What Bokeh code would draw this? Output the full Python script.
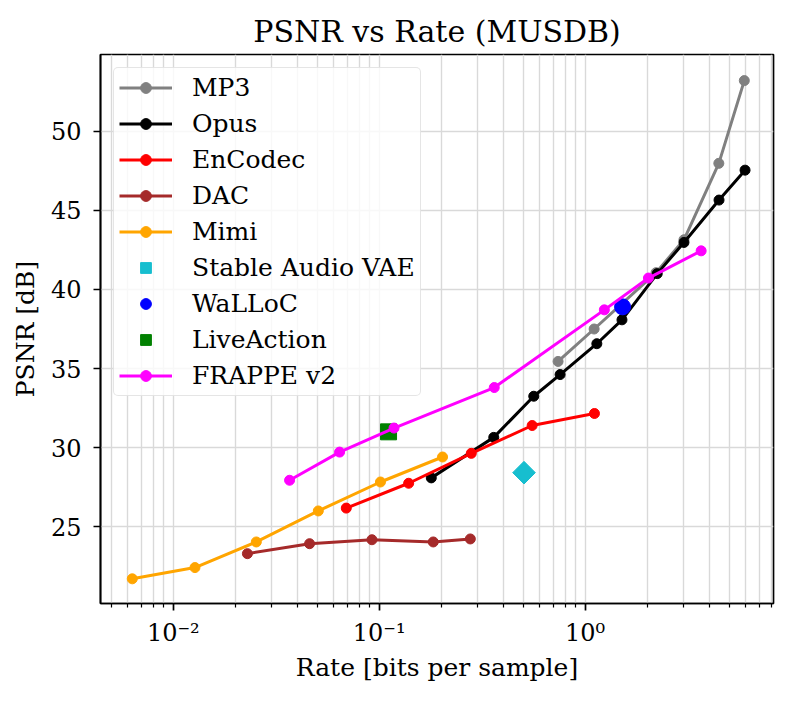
import math
from bokeh.plotting import figure
from bokeh.models import Range1d, FixedTicker, CustomJSTickFormatter
from bokeh.embed import file_html
from bokeh.resources import INLINE

FONT = "DejaVu Serif"

mp3_x = [0.739, 1.106, 2.21, 3.02, 4.46, 5.93]
mp3_y = [35.45, 37.5, 41.06, 43.14, 47.97, 53.2]

opus_x = [0.179, 0.360, 0.563, 0.756, 1.14, 1.51, 2.24, 3.02, 4.47, 5.98]
opus_y = [28.09, 30.65, 33.25, 34.62, 36.57, 38.08, 41.0, 42.97, 45.65, 47.54]

encodec_x = [0.0692, 0.139, 0.280, 0.553, 1.11]
encodec_y = [26.18, 27.75, 29.64, 31.40, 32.16]

dac_x = [0.0229, 0.0459, 0.0922, 0.183, 0.277]
dac_y = [23.30, 23.93, 24.18, 24.04, 24.23]

mimi_x = [0.00632, 0.01274, 0.0253, 0.0506, 0.1014, 0.203]
mimi_y = [21.71, 22.42, 24.04, 26.0, 27.83, 29.41]

stable_x = [0.505]
stable_y = [28.42]

walloc_x = [1.52]
walloc_y = [38.9]

liveaction_x = [0.111]
liveaction_y = [31.0]

frappe_x = [0.0367, 0.0642, 0.118, 0.362, 1.24, 2.03, 3.66]
frappe_y = [27.94, 29.72, 31.24, 33.80, 38.71, 40.72, 42.44]

y_ticks = [25, 30, 35, 40, 45, 50]
x_major = [0.01, 0.1, 1.0]
x_minor = [k * 10.0 ** e for e in range(-3, 1) for k in range(2, 10)]

p = figure(width=792, height=701, x_axis_type="log",
           x_range=Range1d(0.00443, 8.22), y_range=Range1d(20.15, 54.85),
           output_backend="svg", toolbar_location=None,
           min_border_left=100, min_border_right=19,
           min_border_top=54, min_border_bottom=98,
           title="PSNR vs Rate (MUSDB)")

p.background_fill_color = "white"
p.border_fill_color = "white"
p.outline_line_color = "black"
p.outline_line_width = 1.7
p.outline_line_alpha = 1

p.title.align = "center"
p.title.text_font = FONT
p.title.text_font_size = "30px"
p.title.text_font_style = "normal"
p.title.text_color = "black"
p.title.standoff = 11

p.xaxis.ticker = FixedTicker(ticks=x_major, minor_ticks=x_minor)
p.yaxis.ticker = FixedTicker(ticks=y_ticks)
p.xaxis.formatter = CustomJSTickFormatter(code="""
const sup = {'-':'\u207b','0':'\u2070','1':'\u00b9','2':'\u00b2','3':'\u00b3','4':'\u2074','5':'\u2075','6':'\u2076','7':'\u2077','8':'\u2078','9':'\u2079'};
const e = Math.round(Math.log10(tick));
return '10' + String(e).split('').map(c => sup[c]).join('');
""")

for ax in (p.xaxis, p.yaxis):
    ax.axis_line_color = "black"
    ax.axis_line_width = 1.7
    ax.major_tick_line_color = "black"
    ax.major_tick_line_width = 1.7
    ax.major_tick_out = 7
    ax.major_tick_in = 0
    ax.minor_tick_line_color = "black"
    ax.minor_tick_line_width = 1.2
    ax.minor_tick_out = 4
    ax.minor_tick_in = 0
    ax.major_label_text_font = FONT
    ax.major_label_text_font_size = "24px"
    ax.major_label_text_color = "black"
    ax.axis_label_text_font = FONT
    ax.axis_label_text_font_size = "25px"
    ax.axis_label_text_font_style = "normal"
    ax.axis_label_text_color = "black"

p.yaxis.minor_tick_line_color = None
p.xaxis.axis_label = "Rate [bits per sample]"
p.yaxis.axis_label = "PSNR [dB]"
p.xaxis.major_label_standoff = 8
p.xaxis.axis_label_standoff = 3
p.yaxis.major_label_standoff = 12
p.yaxis.axis_label_standoff = 8

p.xgrid.grid_line_color = "#d9d9d9"
p.xgrid.grid_line_width = 1.4
p.xgrid.minor_grid_line_color = "#d9d9d9"
p.xgrid.minor_grid_line_width = 1.4
p.ygrid.grid_line_color = "#d9d9d9"
p.ygrid.grid_line_width = 1.4

def series(x, y, color, name):
    p.line(x, y, line_color=color, line_width=3, legend_label=name)
    p.scatter(x, y, marker="circle", size=10, fill_color=color, line_color=color, legend_label=name)

series(mp3_x, mp3_y, "#808080", "MP3")
series(opus_x, opus_y, "#000000", "Opus")
series(encodec_x, encodec_y, "#ff0000", "EnCodec")
series(dac_x, dac_y, "#a52a2a", "DAC")
series(mimi_x, mimi_y, "#ffa500", "Mimi")
p.scatter(stable_x, stable_y, marker="square", size=16, angle=math.pi / 4,
          fill_color="#17becf", line_color="#17becf", legend_label="Stable Audio VAE")
p.scatter(walloc_x, walloc_y, marker="circle", size=16, fill_color="#0000ff", line_color="#0000ff", legend_label="WaLLoC")
p.scatter(liveaction_x, liveaction_y, marker="square", size=16, fill_color="#008000", line_color="#008000", legend_label="LiveAction")
series(frappe_x, frappe_y, "#ff00ff", "FRAPPE v2")

lg = p.legend[0]
lg.location = "top_left"
lg.margin = 13
lg.padding = 5
lg.spacing = 7
lg.glyph_width = 53
lg.glyph_height = 27
lg.label_height = 27
lg.label_standoff = 20
lg.label_text_font = FONT
lg.label_text_font_size = "25px"
lg.label_text_color = "black"
lg.border_line_color = "#cccccc"
lg.border_line_width = 1.5
lg.border_radius = 5
lg.background_fill_color = "white"
lg.background_fill_alpha = 0.8

open("out.html", "w", encoding="utf-8").write(file_html(p, INLINE))
